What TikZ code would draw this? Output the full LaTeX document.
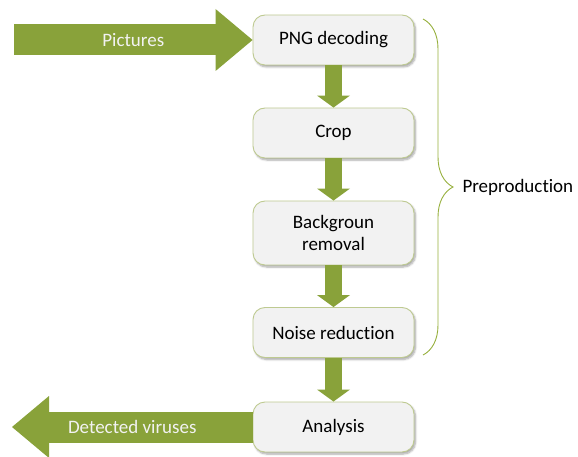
\documentclass[tikz,border=0pt]{standalone}
\usepackage{fontspec}
\setmainfont[Ligatures=NoCommon]{Carlito}
\usetikzlibrary{arrows.meta,shadows.blur,decorations.pathreplacing}

\definecolor{leaf}{RGB}{137,162,58}
\definecolor{boxfill}{RGB}{242,242,242}
\definecolor{boxedge}{RGB}{190,202,145}
\definecolor{bracecol}{RGB}{150,175,60}

\tikzset{
  label font/.style={font=\fontsize{19}{22}\selectfont},
  stage/.style={draw=boxedge, line width=0.9pt, fill=boxfill, rounded corners=12pt,
    minimum width=161pt, minimum height=50pt, align=center, text=black,
    label font,
    blur shadow={shadow xshift=1.5pt, shadow yshift=-2pt, shadow opacity=35, shadow blur steps=6}},
  flow/.style={draw=leaf, line width=16.5pt,
    -{Triangle[width=33pt, length=12pt, line width=0pt, fill=leaf]}},
  bigflow/.style={draw=leaf, line width=31pt,
    -{Triangle[width=62pt, length=37pt, line width=0pt, fill=leaf]}},
  flowtext/.style={text=white!95!black, label font},
  bracket/.style={draw=bracecol, line width=0.9pt,
    decorate, decoration={brace, amplitude=30pt, aspect=0.5}},
}

\begin{document}
\begin{tikzpicture}[x=1pt, y=-1pt]
  \useasboundingbox (0,0) rectangle (578,457);

  % processing stages
  \node[stage] (png) at (333.5,40) {PNG decoding};
  \node[stage] (crop) at (333.5,133) {Crop};
  \node[stage, minimum height=64pt] (bg) at (333.5,233) {Backgroun\\removal};
  \node[stage] (noise) at (333.5,332.5) {Noise reduction};
  \node[stage] (ana) at (333.5,427) {Analysis};

  % flow between stages
  \draw[flow] (png) -- (crop);
  \draw[flow] (crop) -- (bg);
  \draw[flow] (bg) -- (noise);
  \draw[flow] (noise) -- (ana);

  % input and output
  \coordinate (src) at (14,40);
  \coordinate (dst) at (12,427);
  \draw[bigflow] (src) -- (png.west) node[midway, flowtext] (pic) {Pictures};
  \draw[bigflow] (ana.west) -- (dst) node[midway, flowtext] (vir) {Detected viruses};

  % grouping of the preprocessing steps
  \coordinate (btop) at (423,19);
  \coordinate (bbot) at (423,355);
  \draw[bracket] (btop) -- (bbot);
  \node[anchor=west, text=black, label font] (pre) at (459,187) {Preproduction};
\end{tikzpicture}
\end{document}
